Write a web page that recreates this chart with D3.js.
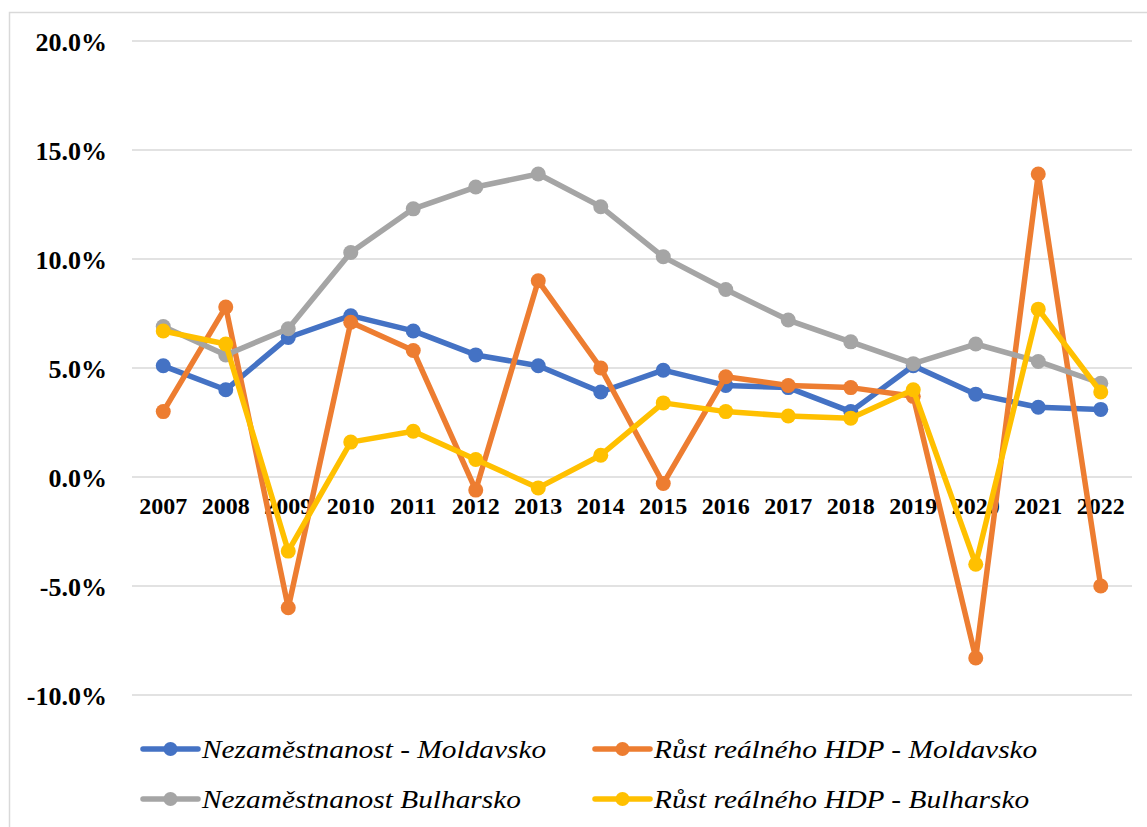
<!DOCTYPE html>
<html>
<head>
<meta charset="utf-8">
<script src="https://cdn.jsdelivr.net/npm/d3@7"></script>
<style>
  body { margin: 0; background: #fff; }
  svg { display: block; }
</style>
</head>
<body>
<div id="chart"></div>
<script>
// Roky a hodnoty (v %)
const years = ['2007','2008','2009','2010','2011','2012','2013','2014','2015','2016','2017','2018','2019','2020','2021','2022'];
const unempMoldova = [5.1, 4.0, 6.4, 7.4, 6.7, 5.6, 5.1, 3.9, 4.9, 4.2, 4.1, 3.0, 5.1, 3.8, 3.2, 3.1];
const gdpMoldova   = [3.0, 7.8, -6.0, 7.1, 5.8, -0.6, 9.0, 5.0, -0.3, 4.6, 4.2, 4.1, 3.7, -8.3, 13.9, -5.0];
const unempBulgaria = [6.9, 5.6, 6.8, 10.3, 12.3, 13.3, 13.9, 12.4, 10.1, 8.6, 7.2, 6.2, 5.2, 6.1, 5.3, 4.3];
const gdpBulgaria   = [6.7, 6.1, -3.4, 1.6, 2.1, 0.8, -0.5, 1.0, 3.4, 3.0, 2.8, 2.7, 4.0, -4.0, 7.7, 3.9];
const yTicks = [-10, -5, 0, 5, 10, 15, 20];

const series = [
  { name: 'Nezaměstnanost - Moldavsko', values: unempMoldova, color: '#4472C4' },
  { name: 'Růst reálného HDP - Moldavsko', values: gdpMoldova, color: '#ED7D31' },
  { name: 'Nezaměstnanost Bulharsko', values: unempBulgaria, color: '#A5A5A5' },
  { name: 'Růst reálného HDP - Bulharsko', values: gdpBulgaria, color: '#FFC000' }
];

const serifFont = '"Liberation Serif", "Times New Roman", "DejaVu Serif", serif';
const width = 1147, height = 827;
const svg = d3.select('#chart').append('svg')
  .attr('width', width)
  .attr('height', height);

// chart area border (only top/left visible in the frame)
svg.append('rect')
  .attr('x', 9.5).attr('y', 12.5)
  .attr('width', 1200).attr('height', 900)
  .attr('fill', 'none')
  .attr('stroke', '#d9d9d9')
  .attr('stroke-width', 1.5);

const plotLeft = 132, plotRight = 1132;
const x = d3.scaleBand().domain(years).range([plotLeft, plotRight]);
const y = d3.scaleLinear().domain([-10, 20]).range([695, 41]);

// gridlines
svg.append('g').selectAll('line')
  .data(yTicks)
  .enter().append('line')
  .attr('x1', plotLeft).attr('x2', plotRight)
  .attr('y1', d => y(d)).attr('y2', d => y(d))
  .attr('stroke', '#d9d9d9')
  .attr('stroke-width', 1.5);

// y axis labels
const yAxis = d3.axisLeft(y).tickValues(yTicks).tickSize(0).tickPadding(0)
  .tickFormat(d => d.toFixed(1) + '%');
const gy = svg.append('g').attr('transform', 'translate(107,0)').call(yAxis);
gy.select('.domain').remove();
gy.selectAll('text')
  .attr('font-family', serifFont)
  .attr('font-weight', 'bold')
  .attr('font-size', '26px')
  .attr('fill', '#000')
  .attr('dy', '0.35em');

// x axis labels (sit just under the 0 % line)
const xAxis = d3.axisBottom(x).tickSize(0).tickPadding(0);
const gx = svg.append('g').attr('transform', 'translate(0,' + (y(0) + 29) + ')').call(xAxis);
gx.select('.domain').remove();
gx.selectAll('text')
  .attr('font-family', serifFont)
  .attr('font-weight', 'bold')
  .attr('font-size', '24px')
  .attr('fill', '#000')
  .attr('dy', '0.35em');

const cx = d => x(d) + x.bandwidth() / 2;
const line = d3.line()
  .x((d, i) => cx(years[i]))
  .y(d => y(d));

// lines and markers, drawn in series order
series.forEach(s => {
  const g = svg.append('g');
  g.append('path')
    .datum(s.values)
    .attr('d', line)
    .attr('fill', 'none')
    .attr('stroke', s.color)
    .attr('stroke-width', 5.5)
    .attr('stroke-linejoin', 'round')
    .attr('stroke-linecap', 'round');
  g.selectAll('circle')
    .data(s.values)
    .enter().append('circle')
    .attr('cx', (d, i) => cx(years[i]))
    .attr('cy', d => y(d))
    .attr('r', 7.5)
    .attr('fill', s.color);
});

// legend
const legendPos = [
  { x: 143, y: 749 },
  { x: 595, y: 749 },
  { x: 143, y: 799 },
  { x: 595, y: 799 }
];
series.forEach((s, i) => {
  const p = legendPos[i];
  const lg = svg.append('g').attr('transform', `translate(${p.x},${p.y})`);
  lg.append('line')
    .attr('x1', 0).attr('x2', 55)
    .attr('y1', 0).attr('y2', 0)
    .attr('stroke', s.color)
    .attr('stroke-width', 5.5)
    .attr('stroke-linecap', 'round');
  lg.append('circle')
    .attr('cx', 27.5).attr('cy', 0)
    .attr('r', 7)
    .attr('fill', s.color);
  // the legend text in the reference is stretched horizontally
  lg.append('text')
    .attr('transform', 'translate(59,0) scale(1.175,1)')
    .attr('dy', '0.35em')
    .attr('font-family', serifFont)
    .attr('font-style', 'italic')
    .attr('font-size', '25px')
    .attr('fill', '#000')
    .text(s.name);
});
</script>
</body>
</html>
